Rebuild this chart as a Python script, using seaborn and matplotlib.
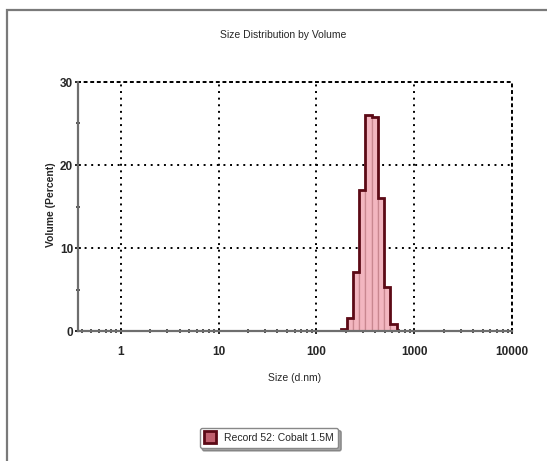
import numpy as np
import pandas as pd
import matplotlib
matplotlib.use("Agg")
import matplotlib.pyplot as plt
from matplotlib.patches import Rectangle
from matplotlib.lines import Line2D
import seaborn as sns

# ---- data ----
sizes = [190.1, 220.2, 255.0, 295.3, 342.0, 396.1, 458.7, 531.2, 615.1]   # bin centres, d.nm
volumes = [0.2, 1.6, 7.1, 17.0, 26.0, 25.8, 16.0, 5.3, 0.8]             # Volume (%)
xticks = [1, 10, 100, 1000, 10000]
xticklabels = ["1", "10", "100", "1000", "10000"]
yticks = [0, 10, 20, 30]
title = "Size Distribution by Volume"
xlabel = "Size (d.nm)"
ylabel = "Volume (Percent)"
legend_label = "Record 52: Cobalt 1.5M"

sns.set_theme(style="white")
plt.rcParams['font.family'] = ['Liberation Sans Narrow', 'Liberation Sans', 'DejaVu Sans']

df = pd.DataFrame({"size": sizes, "volume": volumes})

# bin edges from geometric midpoints of the centres
c = np.array(sizes)
mids = np.sqrt(c[:-1] * c[1:])
ratio = c[1] / c[0]
edges = np.concatenate([[c[0] / np.sqrt(ratio)], mids, [c[-1] * np.sqrt(ratio)]])

fig = plt.figure(figsize=(5.47, 4.61), dpi=100)
ax = fig.add_axes([78 / 547, 1 - 331 / 461, (512 - 78) / 547, (331 - 82) / 461])

fill_col = "#F3B6C0"
inner_col = "#C98790"
dark = "#5C0A16"

sns.histplot(data=df, x="size", weights="volume", bins=[float(v) for v in np.log10(edges)],
             log_scale=True, stat="count", element="bars", fill=True, color=fill_col,
             edgecolor=inner_col, linewidth=0.9, alpha=1, ax=ax)
ax.stairs(volumes, edges, baseline=0, color=dark, linewidth=2.0, zorder=5)

ax.set_xscale("log")
ax.set_xlim(0.366, 10000)
ax.set_ylim(0, 30)
ax.set_xticks(xticks)
ax.set_xticklabels(xticklabels)
ax.set_yticks(yticks)
ax.set_yticks([5, 15, 25], minor=True)
ax.set_xlabel("")
ax.set_ylabel("")

dot = (0, (1, 2.4))
ax.grid(True, which="major", color="black", linestyle=dot, linewidth=1.4)
ax.set_axisbelow(True)

for s in ["top", "right"]:
    ax.spines[s].set_visible(True)
    ax.spines[s].set_color("black")
    ax.spines[s].set_linestyle(dot)
    ax.spines[s].set_linewidth(1.4)
for s in ["left", "bottom"]:
    ax.spines[s].set_visible(True)
    ax.spines[s].set_color("#6E6E6E")
    ax.spines[s].set_linewidth(1.6)
    ax.spines[s].set_zorder(6)

ax.tick_params(axis="both", which="major", direction="inout", length=4, width=1.2,
               color="black", labelsize=8.5)
ax.tick_params(axis="both", which="minor", direction="inout", length=3, width=1.2,
               color="#333333")
ax.tick_params(axis="x", which="both", bottom=True, pad=9)
ax.tick_params(axis="y", which="both", left=True, pad=1.5)
for lab in ax.get_xticklabels() + ax.get_yticklabels():
    lab.set_fontweight("bold")

fig.text(283 / 547, 1 - 35 / 461, title, ha="center", va="center", fontsize=7.5)
fig.text(295 / 547, 1 - 378 / 461, xlabel, ha="center", va="center", fontsize=7.5)
fig.text(51 / 547, 1 - 205 / 461, ylabel, ha="center", va="center", rotation=90,
         fontsize=7.5, fontweight="bold")

handle = Line2D([], [], marker="s", linestyle="none", markersize=8,
                markerfacecolor="#C0606E", markeredgecolor=dark, markeredgewidth=2)
fig.legend([handle], [legend_label], loc="center", bbox_to_anchor=(269 / 547, 1 - 438 / 461),
           frameon=True, fancybox=True, shadow=True, fontsize=7.5, handlelength=1,
           handletextpad=0.8, borderpad=0.5, edgecolor="#888888")

fig.patches.append(Rectangle((7 / 547, -0.1), 1.1, 1.1 - 10 / 461,
                             transform=fig.transFigure, fill=False,
                             edgecolor="#7A7A7A", linewidth=1.6))

fig.savefig("out.png", dpi=100)
